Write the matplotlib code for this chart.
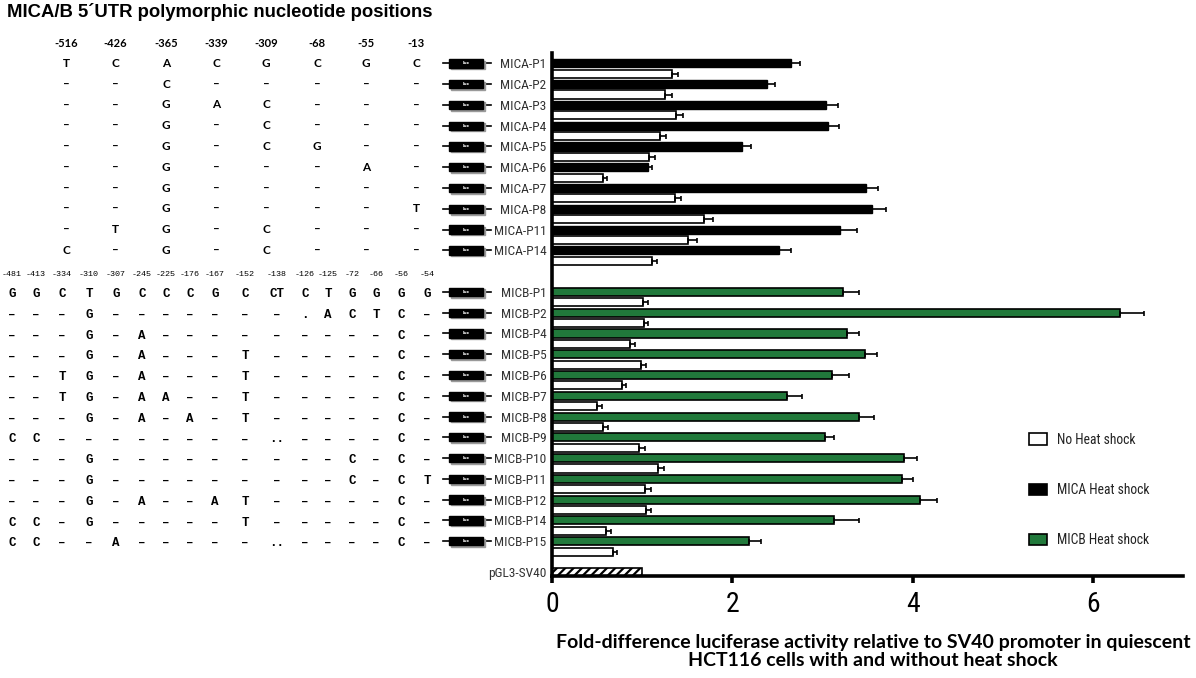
import matplotlib
matplotlib.use("Agg")
import matplotlib.pyplot as plt
import matplotlib.transforms as mtransforms
from matplotlib import font_manager
from matplotlib.lines import Line2D
from matplotlib.patches import Patch, Rectangle

W, H = 1196, 678

# ---- bar data (fold difference vs SV40) ----
mica_names = ["MICA-P1", "MICA-P2", "MICA-P3", "MICA-P4", "MICA-P5",
              "MICA-P6", "MICA-P7", "MICA-P8", "MICA-P11", "MICA-P14"]
mica_heat = [2.65, 2.38, 3.04, 3.06, 2.11, 1.07, 3.48, 3.55, 3.20, 2.52]
mica_heat_err = [0.10, 0.09, 0.13, 0.12, 0.10, 0.04, 0.14, 0.15, 0.18, 0.13]
mica_noheat = [1.33, 1.25, 1.38, 1.20, 1.08, 0.57, 1.36, 1.69, 1.51, 1.11]
mica_noheat_err = [0.07, 0.08, 0.07, 0.07, 0.06, 0.04, 0.07, 0.10, 0.10, 0.06]

micb_names = ["MICB-P1", "MICB-P2", "MICB-P4", "MICB-P5", "MICB-P6",
              "MICB-P7", "MICB-P8", "MICB-P9", "MICB-P10", "MICB-P11",
              "MICB-P12", "MICB-P14", "MICB-P15"]
micb_heat = [3.23, 6.30, 3.27, 3.47, 3.11, 2.61, 3.41, 3.03, 3.91, 3.88, 4.08, 3.13, 2.19]
micb_heat_err = [0.18, 0.27, 0.14, 0.14, 0.18, 0.16, 0.16, 0.10, 0.14, 0.12, 0.19, 0.28, 0.13]
micb_noheat = [1.01, 1.02, 0.86, 0.99, 0.78, 0.50, 0.57, 0.97, 1.18, 1.03, 1.04, 0.60, 0.68]
micb_noheat_err = [0.05, 0.05, 0.06, 0.05, 0.04, 0.06, 0.05, 0.06, 0.06, 0.07, 0.06, 0.06, 0.04]

sv40_name = "pGL3-SV40"
sv40_value = 1.0

# ---- polymorphism table ----
mica_positions = ["-516", "-426", "-365", "-339", "-309", "-68", "-55", "-13"]
mica_alleles = [
    "T C A C G C G C",
    "– – C – – – – –",
    "– – G A C – – –",
    "– – G – C – – –",
    "– – G – C G – –",
    "– – G – – – A –",
    "– – G – – – – –",
    "– – G – – – – T",
    "– T G – C – – –",
    "C – G – C – – –",
]

micb_positions = ["-481", "-413", "-334", "-310", "-307", "-245", "-225", "-176", "-167",
                  "-152", "-138", "-126", "-125", "-72", "-66", "-56", "-54"]
micb_alleles = [
    "G G C T G C C C G C CT C T G G G G",
    "– – – G – – – – – – – . A C T C –",
    "– – – G – A – – – – – – – – – C –",
    "– – – G – A – – – T – – – – – C –",
    "– – T G – A – – – T – – – – – C –",
    "– – T G – A A – – T – – – – – C –",
    "– – – G – A – A – T – – – – – C –",
    "C C – – – – – – – – .. – – – – C –",
    "– – – G – – – – – – – – – C – C –",
    "– – – G – – – – – – – – – C – C T",
    "– – – G – A – – A T – – – – – C –",
    "C C – G – – – – – T – – – – – C –",
    "C C – – A – – – – – .. – – – – C –",
]

# ---- layout (pixels) ----
mica_col_x = [66, 115, 166, 216, 266, 317, 366, 416]
micb_col_x = [12, 36, 62, 89, 116, 142, 166, 190, 215, 245, 277, 305, 328, 352, 376, 401, 427]
GREEN = "#21793b"


def has_font(name):
    try:
        font_manager.findfont(name, fallback_to_default=False)
        return True
    except Exception:
        return False


NARROW = "Liberation Sans"
for cand in ["Liberation Sans Narrow", "Roboto Condensed", "Noto Sans Condensed"]:
    if has_font(cand):
        NARROW = cand
        break
plt.rcParams["hatch.linewidth"] = 1.6

fig = plt.figure(figsize=(W / 100, H / 100), dpi=100)
ax = fig.add_axes([552 / W, 1 - 576 / H, (1183 - 552) / W, (576 - 53) / H])

# slot positions: one slot per bar
mica_heat_y = [2 * i for i in range(len(mica_names))]
mica_no_y = [2 * i + 1 for i in range(len(mica_names))]
micb_heat_y = [22 + 2 * i for i in range(len(micb_names))]
micb_no_y = [23 + 2 * i for i in range(len(micb_names))]
sv40_y = 49

bh = 0.78
ekw = dict(fmt="none", ecolor="black", elinewidth=1.2, capsize=1.8, capthick=1.2)

ax.barh(mica_heat_y, mica_heat, height=bh, color="black", edgecolor="black", lw=1)
ax.errorbar(mica_heat, mica_heat_y, xerr=[[0] * len(mica_heat), mica_heat_err], **ekw)
ax.barh(mica_no_y, mica_noheat, height=bh, color="white", edgecolor="black", lw=1.2)
ax.errorbar(mica_noheat, mica_no_y, xerr=[[0] * len(mica_noheat), mica_noheat_err], **ekw)

ax.barh(micb_heat_y, micb_heat, height=bh, color=GREEN, edgecolor="black", lw=1.2)
ax.errorbar(micb_heat, micb_heat_y, xerr=[[0] * len(micb_heat), micb_heat_err], **ekw)
ax.barh(micb_no_y, micb_noheat, height=bh, color="white", edgecolor="black", lw=1.2)
ax.errorbar(micb_noheat, micb_no_y, xerr=[[0] * len(micb_noheat), micb_noheat_err], **ekw)

ax.barh([sv40_y], [sv40_value], height=bh, color="white", edgecolor="black", lw=1.2, hatch="////")

ax.set_xlim(0, 7)
ax.set_ylim(49.35, -1.0)

for s in ["top", "right"]:
    ax.spines[s].set_visible(False)
for s in ["left", "bottom"]:
    ax.spines[s].set_linewidth(2.6)

ax.set_xticks([0, 2, 4, 6])
ax.tick_params(axis="x", direction="out", length=5, width=2.6, pad=6, labelsize=20)
for lab in ax.get_xticklabels():
    lab.set_fontfamily(NARROW)

ax.set_yticks(mica_heat_y + micb_heat_y + [sv40_y], mica_names + micb_names + [sv40_name])
ax.tick_params(axis="y", length=0, pad=4, labelsize=9.6, labelcolor="#333333")
for lab in ax.get_yticklabels():
    lab.set_fontfamily(NARROW)

ax.set_xlabel("Fold-difference luciferase activity relative to SV40 promoter in quiescent\n"
              "HCT116 cells with and without heat shock",
              fontfamily="Lato", fontweight="bold", fontsize=14, linespacing=1.12)
ax.xaxis.set_label_coords(0.509, -0.11)

# ---- left table drawn in pixel x / slot y ----
trans = mtransforms.blended_transform_factory(
    mtransforms.Affine2D().scale(1 / W, 1) + fig.transFigure, ax.transData)


def luc_box(y):
    ax.add_artist(Line2D([443, 491], [y, y], transform=trans, color="black", lw=1.2, clip_on=False))
    ax.add_patch(Rectangle((450.5, y - 0.4 + 0.15), 34, 0.8, transform=trans,
                           color="#9a9a9a", clip_on=False, zorder=3))
    ax.add_patch(Rectangle((449, y - 0.4), 34, 0.8, transform=trans,
                           color="black", clip_on=False, zorder=4))
    ax.text(466, y, "luc", transform=trans, color="white", fontsize=3.2,
            ha="center", va="center", fontweight="bold", zorder=5)


for x, p in zip(mica_col_x, mica_positions):
    ax.text(x, -1.95, p, transform=trans, ha="center", va="center",
            fontfamily="Lato", fontweight="bold", fontsize=8)
for row, y in zip(mica_alleles, mica_heat_y):
    for x, a in zip(mica_col_x, row.split()):
        ax.text(x, y, a, transform=trans, ha="center", va="center",
                fontfamily="Lato", fontweight="bold", fontsize=8.5)
    luc_box(y)

for x, p in zip(micb_col_x, micb_positions):
    ax.text(x, 20.35, p, transform=trans, ha="center", va="center",
            fontfamily="Liberation Mono", fontsize=6)
for row, y in zip(micb_alleles, micb_heat_y):
    for x, a in zip(micb_col_x, row.split()):
        ax.text(x, y + 0.2, a, transform=trans, ha="center", va="center",
                fontfamily="Liberation Mono", fontweight="bold", fontsize=9)
    luc_box(y)

fig.text(7 / W, 1 - 12 / H, "MICA/B 5\u00b4UTR polymorphic nucleotide positions",
         fontfamily="Liberation Sans", fontweight="bold", fontsize=13.3, va="center")

# ---- legend ----
handles = [Patch(facecolor="white", edgecolor="black", lw=1.2),
           Patch(facecolor="black", edgecolor="black", lw=1.2),
           Patch(facecolor=GREEN, edgecolor="black", lw=1.2)]
leg = ax.legend(handles, ["No Heat shock", "MICA Heat shock", "MICB Heat shock"],
                loc="upper left", bbox_to_anchor=(1029 / W, 1 - 433 / H),
                bbox_transform=fig.transFigure, frameon=False, borderpad=0,
                borderaxespad=0, handlelength=1.35, handleheight=0.95,
                handletextpad=0.7, labelspacing=2.65,
                prop={"family": NARROW, "size": 9.8})
for t in leg.get_texts():
    t.set_color("#222222")

fig.savefig("out.png", dpi=100)
